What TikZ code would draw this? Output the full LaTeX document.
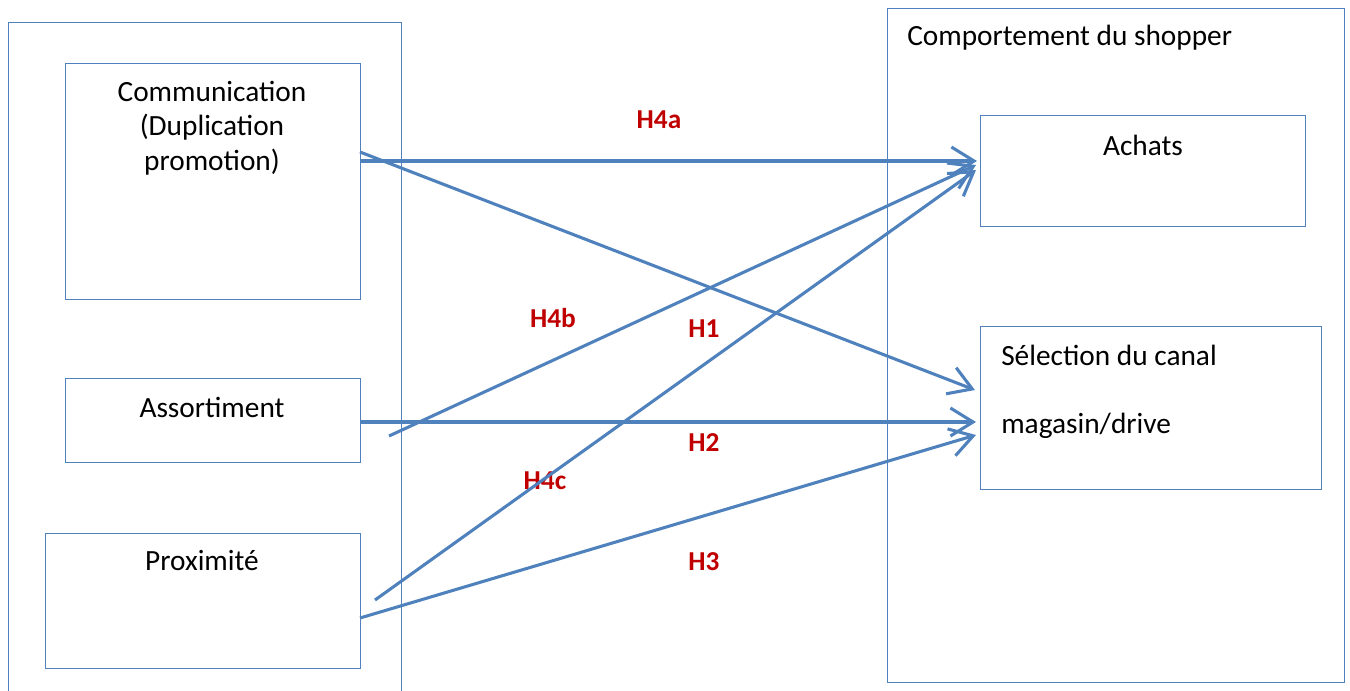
\documentclass[tikz,border=0pt]{standalone}
\usepackage{fontspec}
\setmainfont{Carlito}
\usetikzlibrary{arrows.meta}
\definecolor{bl}{RGB}{79,129,189}
\definecolor{lbl}{RGB}{192,0,0}
\begin{document}
\begin{tikzpicture}[x=0.75pt,y=-0.75pt,
  box/.style={draw=bl, line width=0.9pt, inner sep=0pt, anchor=north west},
  txt/.style={font=\fontsize{22}{26}\selectfont, inner sep=0pt},
  hyp/.style={font=\fontsize{20.5}{24}\selectfont\bfseries, text=lbl, inner sep=0pt},
  arr/.style={draw=bl, line width=2.3pt, -{Straight Barb[length=17pt,width=21pt,line width=2.3pt]}}]
\useasboundingbox (0,0) rectangle (1350,690);
\clip (0,0) rectangle (1350,690);
% outer frames
\node[box, minimum width=294.75pt, minimum height=520pt] (left) at (8,22) {};
\node[box, minimum width=342.75pt, minimum height=505.5pt] (right) at (887,8) {};
% inner boxes
\node[box, minimum width=221.25pt, minimum height=177pt] (comm) at (65,63) {};
\node[box, minimum width=221.25pt, minimum height=63pt] (assort) at (65,378) {};
\node[box, minimum width=236.25pt, minimum height=101.25pt] (prox) at (45,533) {};
\node[box, minimum width=243.75pt, minimum height=83.25pt] (achats) at (980,115) {};
\node[box, minimum width=255.75pt, minimum height=122.25pt] (sel) at (980,326) {};
% texts
\node[txt] (t1) at (212,91) {Communication};
\node[txt] (t2) at (212,127) {(Duplication};
\node[txt] (t3) at (212,162) {promotion)};
\node[txt] (t4) at (212,407) {Assortiment};
\node[txt] (t5) at (202,561) {Proximité};
\node[txt, anchor=west] (t6) at (907,38) {Comportement du shopper};
\node[txt] (t7) at (1143,145) {Achats};
\node[txt, anchor=west] (t8) at (1001,355) {Sélection du canal};
\node[txt, anchor=west] (t9) at (1001,426) {magasin/drive};
% hypothesis labels
\node[hyp] (h4a) at (659,120) {H4a};
\node[hyp] (h4b) at (553,318) {H4b};
\node[hyp] (h1) at (704,329) {H1};
\node[hyp] (h2) at (704,443) {H2};
\node[hyp] (h4c) at (545,481) {H4c};
\node[hyp] (h3) at (704,562) {H3};
% connector endpoints
\coordinate (cA) at (360,161);
\coordinate (cB) at (360,152);
\coordinate (aA) at (389,436);
\coordinate (aB) at (360,422);
\coordinate (pA) at (375,600);
\coordinate (pB) at (360,618);
\coordinate (ach1) at (977,161);
\coordinate (ach2) at (976,165);
\coordinate (ach3) at (976,170);
\coordinate (sel1) at (975,390);
\coordinate (sel2) at (976,422);
\coordinate (sel3) at (976,435);
% arrows
\draw[arr] (cA) -- (ach1);
\draw[arr] (cB) -- (sel1);
\draw[arr] (aA) -- (ach2);
\draw[arr] (aB) -- (sel2);
\draw[arr] (pA) -- (ach3);
\draw[arr] (pB) -- (sel3);
\end{tikzpicture}
\end{document}
